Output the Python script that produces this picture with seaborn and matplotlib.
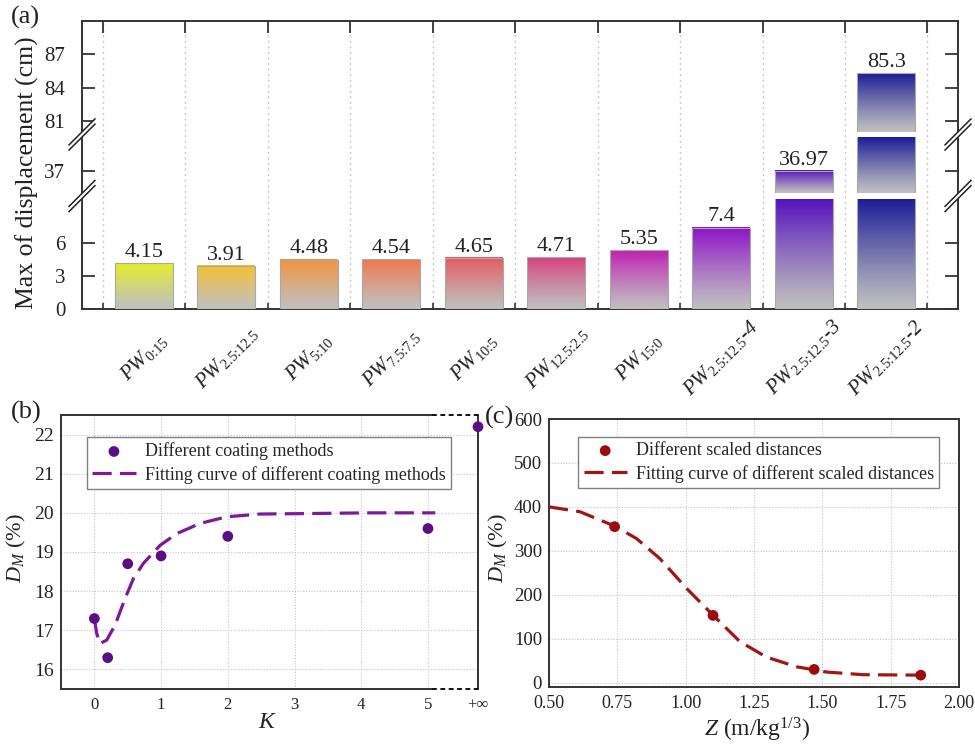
import numpy as np
import pandas as pd
import matplotlib
matplotlib.use("Agg")
import matplotlib.pyplot as plt
import seaborn as sns
from matplotlib.lines import Line2D
from matplotlib.colors import to_rgb
from matplotlib.ticker import FixedLocator, MultipleLocator

# ---------------- data ----------------
# panel (a)
specimens = [r'$PW_{\mathit{0}\text{:}\mathit{15}}$', r'$PW_{\mathit{2.5}\text{:}\mathit{12.5}}$',
             r'$PW_{\mathit{5}\text{:}\mathit{10}}$', r'$PW_{\mathit{7.5}\text{:}\mathit{7.5}}$',
             r'$PW_{\mathit{10}\text{:}\mathit{5}}$', r'$PW_{\mathit{12.5}\text{:}\mathit{2.5}}$',
             r'$PW_{\mathit{15}\text{:}\mathit{0}}$', r'$PW_{\mathit{2.5}\text{:}\mathit{12.5}}$-4',
             r'$PW_{\mathit{2.5}\text{:}\mathit{12.5}}$-3', r'$PW_{\mathit{2.5}\text{:}\mathit{12.5}}$-2']
max_disp = [4.15, 3.91, 4.48, 4.54, 4.65, 4.71, 5.35, 7.4, 36.97, 85.3]
disp_labels = ['4.15', '3.91', '4.48', '4.54', '4.65', '4.71', '5.35', '7.4', '36.97', '85.3']
seg_ylims = [(0, 10), (35, 40), (80, 90)]
seg_yticks = [[0, 3, 6], [37], [81, 84, 87]]

# panel (b)
k_values = [0, 0.2, 0.5, 1, 2, 5, np.inf]
k_ticklabels = ['0', '1', '2', '3', '4', '5', '+\u221e']
dm_coating = [17.3, 16.3, 18.7, 18.9, 19.4, 19.6, 22.2]
fit_k = [0, 0.035, 0.085, 0.185, 0.31, 0.46, 0.585, 0.735, 0.985, 1.235, 1.585,
         1.985, 2.485, 3.085, 4.085, 5.11]
fit_dm_k = [17.3, 16.92, 16.66, 16.75, 17.13, 17.81, 18.32, 18.71, 19.17, 19.47, 19.73,
            19.9, 19.97, 19.98, 20.0, 20.0]

# panel (c)
z_values = [0.74, 1.10, 1.47, 1.86]
dm_scaled = [355, 153, 30, 17]
fit_z = [0.5, 0.613, 0.741, 0.82, 0.906, 1.004, 1.101, 1.199, 1.296, 1.406, 1.516, 1.65, 1.86]
fit_dm_z = [400, 389, 356, 328, 282, 214, 153, 93, 58, 36, 24, 18, 17]

# ---------------- style ----------------
bar_colors = ['#e4ee28', '#f6c22e', '#f5933a', '#f0784a', '#e65a5e', '#d6427c',
              '#c020b2', '#8e12c8', '#5612bc', '#1c1c98']
GRAY = np.array(to_rgb('#c0c0c0'))
SPINE = '#333333'
DASH = (0, (6, 2.6))

sns.set_style('white')
plt.rcParams['font.family'] = ['Liberation Serif', 'DejaVu Serif']
plt.rcParams['mathtext.fontset'] = 'custom'
plt.rcParams['mathtext.rm'] = 'Liberation Serif'
plt.rcParams['mathtext.it'] = 'Liberation Serif:italic'
plt.rcParams['mathtext.bf'] = 'Liberation Serif:bold'

FW, FH = 975, 745
fig = plt.figure(figsize=(FW / 100, FH / 100), dpi=100)


def fx(px):
    return px / FW


def fy(py):
    return 1 - py / FH


# ---------------- panel (a) ----------------
L, R = 82, 958
TOP, BOT = 21, 309
XL = (-0.75, 9.87)
bounds = np.arange(-0.5, 10, 1.0)

ax_bg = fig.add_axes([fx(L), fy(BOT), (R - L) / FW, (BOT - TOP) / FH])
ax_bg.set_xlim(XL)
ax_bg.set_ylim(0, 1)
for b in bounds:
    ax_bg.axvline(b, color='#c8c8c8', ls=(0, (1.5, 2.5)), lw=1.0, zorder=0)
ax_bg.set_xticks([])
ax_bg.set_yticks([])
for s in ax_bg.spines.values():
    s.set_color(SPINE)
    s.set_linewidth(1.4)

df_a = pd.DataFrame({'specimen': specimens, 'disp': max_disp})
seg_px = [(199, 309), (137, 193), (21, 132)]

for k, ((top, bot), ylim, yt) in enumerate(zip(seg_px, seg_ylims, seg_yticks)):
    ax = fig.add_axes([fx(L), fy(bot), (R - L) / FW, (bot - top) / FH])
    ax.set_facecolor('none')
    sns.barplot(data=df_a, x='specimen', y='disp', ax=ax, width=0.7, color='white',
                saturation=1, edgecolor='#a8a8a8', linewidth=0.8)
    for i, p in enumerate(ax.patches):
        x0, w, h = p.get_x(), p.get_width(), p.get_height()
        lo, hi = max(ylim[0], 0), min(h, ylim[1])
        p.set_facecolor('none')
        p.set_zorder(3)
        if hi <= lo:
            p.set_visible(False)
            continue
        t = np.linspace(0, 1, 256)[:, None] ** 1.15
        col = np.array(to_rgb(bar_colors[i]))
        img = GRAY * (1 - t) + col * t
        ax.imshow(img[:, None, :], extent=[x0, x0 + w, lo, hi], origin='lower',
                  aspect='auto', interpolation='bilinear', zorder=2)
        if ylim[0] <= h <= ylim[1]:
            ax.annotate(disp_labels[i], (x0 + w / 2, h), xytext=(0, 4.5),
                        textcoords='offset points', ha='center', va='baseline',
                        fontsize=16, color='#222222')
    ax.set_xlim(XL)
    ax.set_ylim(ylim)
    ax.set_xlabel('')
    ax.set_ylabel('')
    for s in ax.spines.values():
        s.set_visible(False)
    ax.set_yticks(yt)
    ax.tick_params(axis='y', which='major', direction='in', left=True, right=True,
                   length=9.4, width=1.3, color=SPINE, labelsize=15, pad=12,
                   labelleft=True, labelright=False, labelcolor='#222222')
    if k == 0:
        ax.set_xticks(range(len(specimens)))
        ax.set_xticklabels(specimens, rotation=45, ha='center', va='center',
                           rotation_mode='anchor', fontsize=15, fontstyle='italic',
                           color='#222222')
        ax.set_xticks(bounds, minor=True)
        ax.tick_params(axis='x', which='major', direction='in', bottom=True, top=False,
                       length=9.4, width=1.3, color=SPINE, pad=35)
        ax.tick_params(axis='x', which='minor', direction='in', bottom=True, top=False,
                       length=4.3, width=1.2, color=SPINE)
    elif k == 1:
        ax.set_xticks([])
    else:
        ax.set_xticks(bounds)
        ax.tick_params(axis='x', which='major', direction='in', bottom=False, top=True,
                       labelbottom=False, labeltop=False, length=8.6, width=1.3,
                       color=SPINE)


def break_mark(xp, yp):
    d, off = 13.5, 2.6
    for o, col, lw in [(0, 'white', 2.8), (-off, '#222222', 1.1), (off, '#222222', 1.1)]:
        fig.add_artist(Line2D([fx(xp - d), fx(xp + d)], [fy(yp + d + o), fy(yp - d + o)],
                              transform=fig.transFigure, color=col, lw=lw,
                              solid_capstyle='butt', zorder=20))


for xp in (L, R):
    for yp in (134.5, 196):
        break_mark(xp, yp)

fig.text(fx(27), fy(173), 'Max of displacement (cm)', rotation=90, ha='center',
         va='center', fontsize=18.5, color='#222222')
fig.text(fx(11), fy(17), '(a)', fontsize=19, ha='left', va='center', color='#222222')

# ---------------- panel (b) ----------------
INF_POS = 5.75
axb = fig.add_axes([fx(61), fy(689), 417 / FW, 274 / FH])
k_pos = [INF_POS if np.isinf(v) else v for v in k_values]
sns.scatterplot(x=k_pos, y=dm_coating, ax=axb, color='#5b0f85', s=60, edgecolor='none',
                label='Different coating methods', zorder=4, clip_on=False)
sns.lineplot(x=fit_k, y=fit_dm_k, ax=axb, color='#7b1a9a', lw=2.3, linestyle=DASH,
             label='Fitting curve of different coating methods', sort=False, zorder=3)
axb.set_xlim(-0.5, INF_POS)
axb.set_ylim(15.5, 22.5)
axb.xaxis.set_major_locator(FixedLocator([0, 1, 2, 3, 4, 5, INF_POS]))
axb.set_xticklabels(k_ticklabels)
axb.xaxis.set_minor_locator(FixedLocator([0.5, 1.5, 2.5, 3.5, 4.5]))
axb.yaxis.set_major_locator(MultipleLocator(1))
axb.yaxis.set_minor_locator(MultipleLocator(0.5))
axb.grid(True, which='major', color='#c4c4c4', ls=(0, (1, 1.5)), lw=0.8)
axb.tick_params(axis='both', which='major', direction='in', length=4.5, width=1.1,
                color=SPINE, labelcolor='#222222')
axb.tick_params(axis='both', which='minor', direction='in', length=2.5, width=1.0,
                color=SPINE)
axb.tick_params(axis='x', labelsize=12, pad=6)
axb.tick_params(axis='y', labelsize=14, pad=5)
for s in axb.spines.values():
    s.set_color(SPINE)
    s.set_linewidth(1.4)
axb.spines['top'].set_bounds(-0.5, 5.06)
axb.spines['bottom'].set_bounds(-0.5, 5.06)
for yv in (15.5, 22.5):
    axb.plot([5.06, INF_POS], [yv, yv], color='#111111', ls=(0, (2.5, 1.8)), lw=1.4,
             clip_on=False, zorder=5)
axb.set_xlabel('')
axb.set_ylabel('')
h, l = axb.get_legend_handles_labels()
leg = axb.legend(h, l, loc='upper left', bbox_to_anchor=(0.062, 0.92), borderaxespad=0,
                 fontsize=13, frameon=True, fancybox=False, edgecolor='#808080',
                 framealpha=1, handlelength=2.4, handletextpad=0.5, borderpad=0.3,
                 labelspacing=0.3)
leg.get_frame().set_linewidth(1.0)
fig.text(fx(268), fy(722), r'$K$', fontsize=17, ha='center', va='center', color='#222222')
fig.text(fx(16), fy(548), r'$D_M$ (%)', rotation=90, fontsize=16, ha='center', va='center',
         color='#222222')
fig.text(fx(11), fy(412), '(b)', fontsize=19, ha='left', va='center', color='#222222')

# ---------------- panel (c) ----------------
axc = fig.add_axes([fx(549), fy(687), 410 / FW, 268 / FH])
sns.scatterplot(x=z_values, y=dm_scaled, ax=axc, color='#9c0c0c', s=60, edgecolor='none',
                label='Different scaled distances', zorder=4, clip_on=False)
sns.lineplot(x=fit_z, y=fit_dm_z, ax=axc, color='#a31515', lw=2.3, linestyle=DASH,
             label='Fitting curve of different scaled distances', sort=False, zorder=3)
axc.set_xlim(0.5, 2.0)
axc.set_ylim(-10, 600)
axc.xaxis.set_major_locator(MultipleLocator(0.25))
axc.xaxis.set_minor_locator(MultipleLocator(0.125))
axc.xaxis.set_major_formatter(matplotlib.ticker.FormatStrFormatter('%.2f'))
axc.yaxis.set_major_locator(MultipleLocator(100))
axc.yaxis.set_minor_locator(MultipleLocator(50))
axc.grid(True, which='major', color='#c4c4c4', ls=(0, (1, 1.5)), lw=0.8)
axc.tick_params(axis='both', which='major', direction='in', length=4.5, width=1.1,
                color=SPINE, labelcolor='#222222')
axc.tick_params(axis='both', which='minor', direction='in', length=2.5, width=1.0,
                color=SPINE)
axc.tick_params(axis='x', labelsize=13, pad=6)
axc.tick_params(axis='y', labelsize=13.5, pad=5)
for s in axc.spines.values():
    s.set_color(SPINE)
    s.set_linewidth(1.4)
axc.set_xlabel('')
axc.set_ylabel('')
h, l = axc.get_legend_handles_labels()
leg = axc.legend(h, l, loc='upper left', bbox_to_anchor=(0.071, 0.933), borderaxespad=0,
                 fontsize=13, frameon=True, fancybox=False, edgecolor='#808080',
                 framealpha=1, handlelength=2.4, handletextpad=0.5, borderpad=0.3,
                 labelspacing=0.3)
leg.get_frame().set_linewidth(1.0)
fig.text(fx(757), fy(730), r'$Z$ (m/kg$^{1/3}$)', fontsize=17, ha='center', va='center',
         color='#222222')
fig.text(fx(498), fy(548), r'$D_M$ (%)', rotation=90, fontsize=16, ha='center', va='center',
         color='#222222')
fig.text(fx(485), fy(417), '(c)', fontsize=19, ha='left', va='center', color='#222222')

fig.savefig('out.png', dpi=100)
